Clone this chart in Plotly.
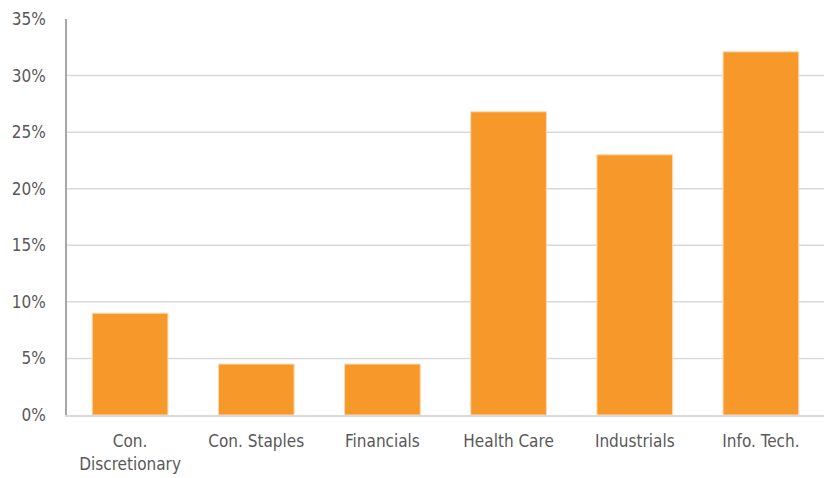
import plotly.graph_objects as go

categories = ["Con.<br>Discretionary", "Con. Staples", "Financials", "Health Care", "Industrials", "Info. Tech."]
values = [9.0, 4.5, 4.5, 26.8, 23.0, 32.1]
tick_vals = [0, 5, 10, 15, 20, 25, 30, 35]
tick_text = ["0%", "5%", "10%", "15%", "20%", "25%", "30%", "35%"]
grid_vals = [5, 10, 15, 20, 25, 30]

FONT = "DejaVu Sans"

fig = go.Figure()
fig.add_trace(go.Bar(
    x=categories, y=values,
    marker=dict(color="#F7992A", line=dict(color="#FCD9B0", width=1)),
    width=0.6,
))

for g in grid_vals:
    fig.add_shape(type="line", xref="paper", yref="y", x0=0, x1=1, y0=g, y1=g,
                  line=dict(color="#D9D9D9", width=1.5), layer="below")

fig.update_layout(
    width=824, height=478,
    margin=dict(l=67, r=0, t=19, b=63, autoexpand=False),
    paper_bgcolor="white", plot_bgcolor="white",
    showlegend=False,
    font=dict(family=FONT, size=17, color="#595959"),
    xaxis=dict(showgrid=False, showline=True, linecolor="#D9D9D9", linewidth=2,
               ticks="", tickfont=dict(size=17, color="#595959"), ticklabelstandoff=10,
               automargin=False),
    yaxis=dict(range=[0, 35], tickvals=tick_vals, ticktext=tick_text, showgrid=False,
               showline=True, linecolor="#A6A6A6", linewidth=1.5, zeroline=False,
               ticks="", ticklabelstandoff=16, tickfont=dict(size=17, color="#595959"),
               automargin=False),
)

post = """
document.body.style.margin = '0';
var st = document.createElement('style');
st.innerHTML = 'body { margin: 0 !important; } .main-svg text { font-stretch: condensed !important; }';
document.head.appendChild(st);
"""
fig.write_html("out.html", post_script=post, config={"displayModeBar": False})
